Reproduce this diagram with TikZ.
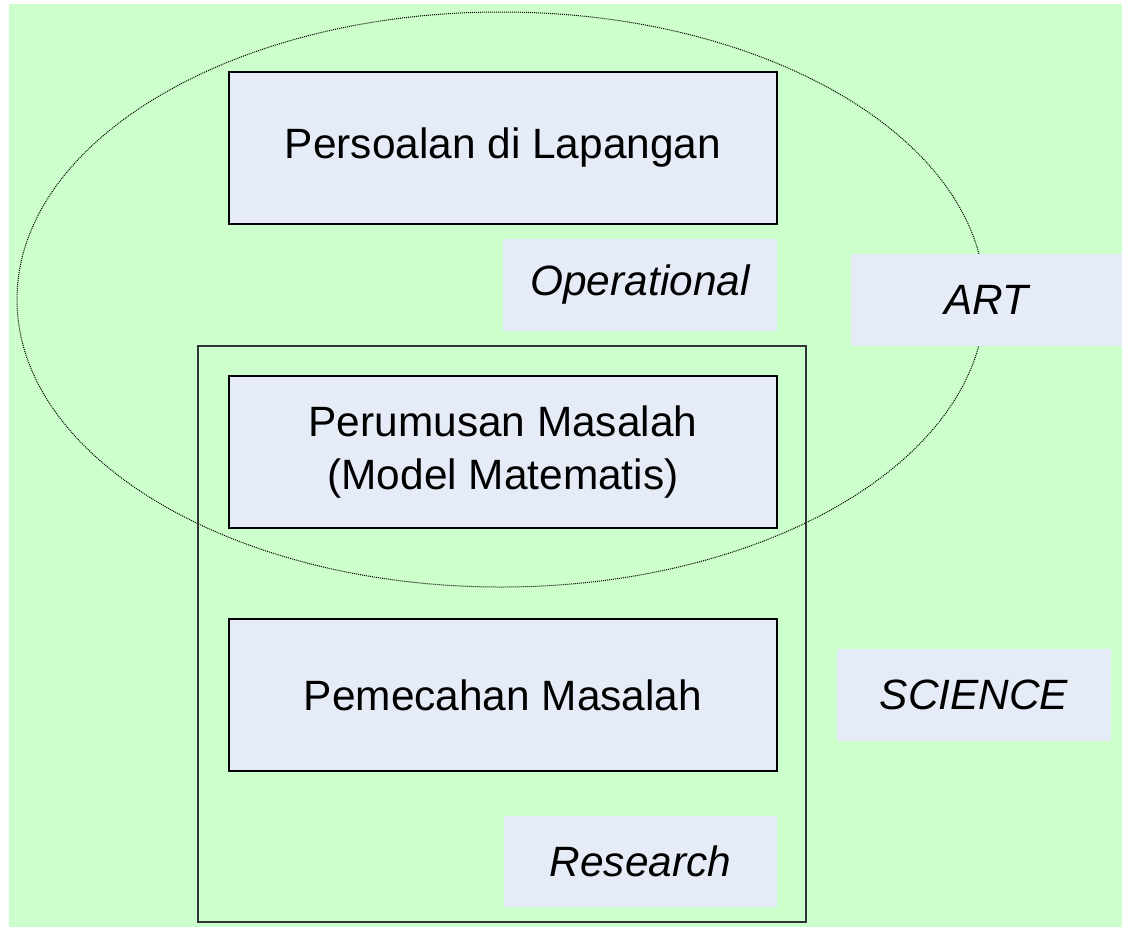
\documentclass[tikz,border=0pt]{standalone}
\usepackage{fontspec}
\setmainfont{Liberation Sans}
\usetikzlibrary{shapes.geometric}
\definecolor{bggreen}{RGB}{204,255,204}
\definecolor{boxfill}{RGB}{230,236,247}
\begin{document}
\begin{tikzpicture}[x=1pt,y=-1pt,
  every node/.style={inner sep=0pt, outer sep=0pt, font=\fontsize{42.4}{53}\selectfont, align=center},
  framedbox/.style={draw=black, line width=1.3pt, fill=boxfill, rectangle},
  labelbox/.style={fill=boxfill, rectangle, font=\fontsize{42.4}{53}\selectfont\itshape},
  outerframe/.style={draw=black!80, line width=1.1pt, rectangle},
  artellipse/.style={draw=black, line width=1pt, dash pattern=on 1pt off 1pt, ellipse}
]
\useasboundingbox (0,0) rectangle (1122,927);
\fill[bggreen] (9,4) rectangle (1122,927);
\node[artellipse, minimum width=968pt, minimum height=575pt] (ell) at (501,299.5) {};
\node[outerframe, minimum width=608pt, minimum height=576pt] (outer) at (502,634) {};
\node[framedbox, minimum width=548pt, minimum height=152pt] (persoalan) at (503,148) {Persoalan di Lapangan};
\node[labelbox, minimum width=274pt, minimum height=92pt] (operational) at (640,285) {Operational};
\node[labelbox, minimum width=271pt, minimum height=92pt] (art) at (986.5,300) {ART};
\node[framedbox, minimum width=548pt, minimum height=152pt] (perumusan) at (503,452) {Perumusan Masalah\\(Model Matematis)};
\node[framedbox, minimum width=548pt, minimum height=152pt] (pemecahan) at (503,695) {Pemecahan Masalah};
\node[labelbox, minimum width=274pt, minimum height=92pt] (science) at (974,695) {SCIENCE};
\node[labelbox, minimum width=273pt, minimum height=91pt] (research) at (640.5,861.5) {Research};
\end{tikzpicture}
\end{document}
